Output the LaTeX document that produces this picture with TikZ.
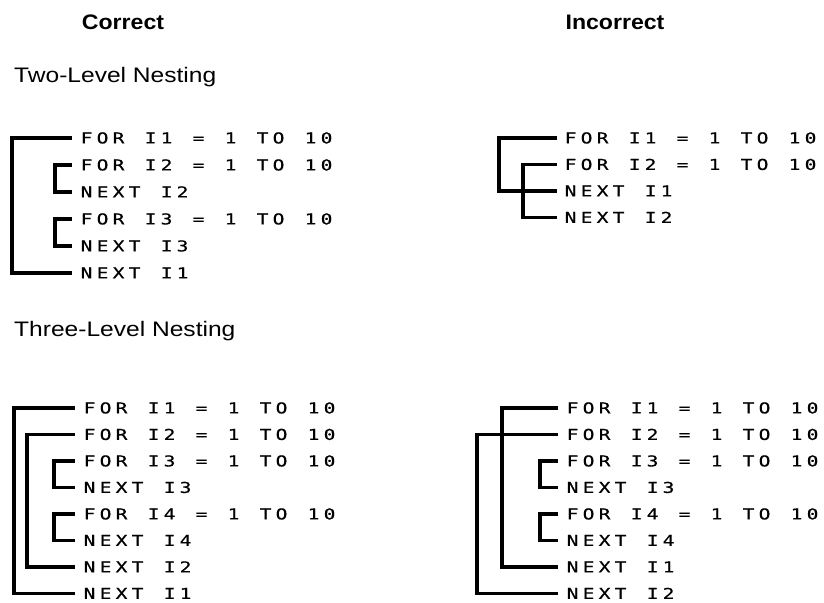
\documentclass[tikz,border=0pt]{standalone}
\usepackage{fontspec}
\setmainfont{Liberation Sans}
\newfontfamily\headfont[FakeStretch=1.1]{Liberation Sans}
\newfontfamily\subfont[FakeStretch=1.17]{Liberation Sans}
\newfontfamily\codefont[FakeStretch=1.3,FakeBold=0.6]{DejaVu Sans Mono}
\newlength\codepitch \setlength\codepitch{16pt}
\makeatletter
\newcommand\monoline[1]{\@tfor\mychar:=#1\do{\makebox[\codepitch][l]{\mychar}}}
\makeatother
\tikzset{
  code/.style={anchor=west, inner sep=0pt, text height=10.8pt, text depth=0pt,
    font=\codefont\fontsize{15}{15}\selectfont},
  head/.style={anchor=base, inner sep=0pt, font=\headfont\bfseries\fontsize{21}{21}\selectfont},
  sub/.style={anchor=base west, inner sep=0pt, font=\subfont\fontsize{21}{21}\selectfont},
  bar/.style={line width=3.2pt, line join=miter},
}
\begin{document}
\begin{tikzpicture}[x=1pt, y=-1pt]
\useasboundingbox (0,0) rectangle (824,602);

% headings
\node[head] (hc) at (123,30) {Correct};
\node[head] (hi) at (615,30) {Incorrect};
\node[sub] (s2) at (14,82) {Two-Level Nesting};
\node[sub] (s3) at (14,336) {Three-Level Nesting};

% Correct, two-level
\node[code] (ca0) at (80.5,138) {\monoline{FOR~I1~=~1~TO~10}};
\node[code] (ca1) at (80.5,165) {\monoline{FOR~I2~=~1~TO~10}};
\node[code] (ca2) at (80.5,192) {\monoline{NEXT~I2}};
\node[code] (ca3) at (80.5,219) {\monoline{FOR~I3~=~1~TO~10}};
\node[code] (ca4) at (80.5,246) {\monoline{NEXT~I3}};
\node[code] (ca5) at (80.5,273) {\monoline{NEXT~I1}};
\coordinate (xa1) at (12,0);
\coordinate (xa2) at (55,0);
\draw[bar] ([xshift=-9pt]ca0.west) -| (xa1 |- ca5.west) -- ([xshift=-9pt]ca5.west);
\draw[bar] ([xshift=-9pt]ca1.west) -| (xa2 |- ca2.west) -- ([xshift=-9pt]ca2.west);
\draw[bar] ([xshift=-9pt]ca3.west) -| (xa2 |- ca4.west) -- ([xshift=-9pt]ca4.west);

% Incorrect, two-level
\node[code] (ia0) at (564.5,138) {\monoline{FOR~I1~=~1~TO~10}};
\node[code] (ia1) at (564.5,164.5) {\monoline{FOR~I2~=~1~TO~10}};
\node[code] (ia2) at (564.5,191) {\monoline{NEXT~I1}};
\node[code] (ia3) at (564.5,217.5) {\monoline{NEXT~I2}};
\coordinate (xi1) at (499,0);
\coordinate (xi2) at (523,0);
\draw[bar] ([xshift=-8pt]ia0.west) -| (xi1 |- ia2.west) -- ([xshift=-8pt]ia2.west);
\draw[bar] ([xshift=-8pt]ia1.west) -| (xi2 |- ia3.west) -- ([xshift=-8pt]ia3.west);

% Correct, three-level
\node[code] (cb0) at (83.5,408) {\monoline{FOR~I1~=~1~TO~10}};
\node[code] (cb1) at (83.5,434.5) {\monoline{FOR~I2~=~1~TO~10}};
\node[code] (cb2) at (83.5,461) {\monoline{FOR~I3~=~1~TO~10}};
\node[code] (cb3) at (83.5,487.5) {\monoline{NEXT~I3}};
\node[code] (cb4) at (83.5,514) {\monoline{FOR~I4~=~1~TO~10}};
\node[code] (cb5) at (83.5,540.5) {\monoline{NEXT~I4}};
\node[code] (cb6) at (83.5,567) {\monoline{NEXT~I2}};
\node[code] (cb7) at (83.5,593.5) {\monoline{NEXT~I1}};
\coordinate (xb1) at (14,0);
\coordinate (xb2) at (27,0);
\coordinate (xb3) at (54,0);
\draw[bar] ([xshift=-9pt]cb0.west) -| (xb1 |- cb7.west) -- ([xshift=-9pt]cb7.west);
\draw[bar] ([xshift=-9pt]cb1.west) -| (xb2 |- cb6.west) -- ([xshift=-9pt]cb6.west);
\draw[bar] ([xshift=-9pt]cb2.west) -| (xb3 |- cb3.west) -- ([xshift=-9pt]cb3.west);
\draw[bar] ([xshift=-9pt]cb4.west) -| (xb3 |- cb5.west) -- ([xshift=-9pt]cb5.west);

% Incorrect, three-level
\node[code] (ib0) at (566.5,408) {\monoline{FOR~I1~=~1~TO~10}};
\node[code] (ib1) at (566.5,434.5) {\monoline{FOR~I2~=~1~TO~10}};
\node[code] (ib2) at (566.5,461) {\monoline{FOR~I3~=~1~TO~10}};
\node[code] (ib3) at (566.5,487.5) {\monoline{NEXT~I3}};
\node[code] (ib4) at (566.5,514) {\monoline{FOR~I4~=~1~TO~10}};
\node[code] (ib5) at (566.5,540.5) {\monoline{NEXT~I4}};
\node[code] (ib6) at (566.5,567) {\monoline{NEXT~I1}};
\node[code] (ib7) at (566.5,593.5) {\monoline{NEXT~I2}};
\coordinate (xj1) at (502,0);
\coordinate (xj2) at (477,0);
\coordinate (xj3) at (540,0);
\draw[bar] ([xshift=-8.5pt]ib0.west) -| (xj1 |- ib6.west) -- ([xshift=-8.5pt]ib6.west);
\draw[bar] ([xshift=-8.5pt]ib1.west) -| (xj2 |- ib7.west) -- ([xshift=-8.5pt]ib7.west);
\draw[bar] ([xshift=-8.5pt]ib2.west) -| (xj3 |- ib3.west) -- ([xshift=-8.5pt]ib3.west);
\draw[bar] ([xshift=-8.5pt]ib4.west) -| (xj3 |- ib5.west) -- ([xshift=-8.5pt]ib5.west);
\end{tikzpicture}
\end{document}
